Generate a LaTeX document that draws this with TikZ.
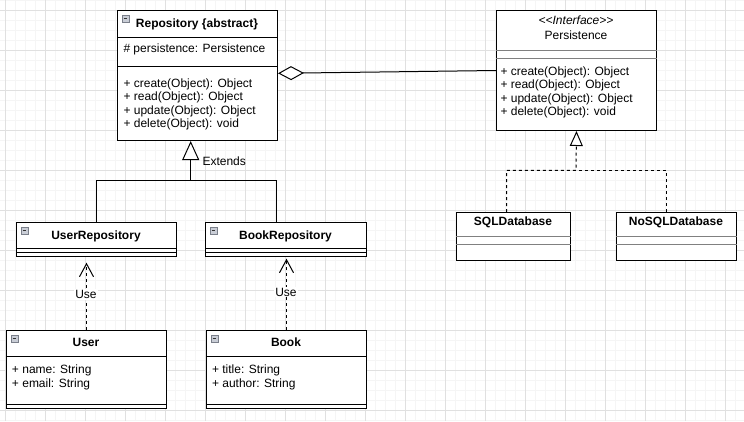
\documentclass[tikz,border=0pt]{standalone}
\usepackage{fontspec}
\setmainfont{Liberation Sans}
\usetikzlibrary{arrows.meta}
\definecolor{gridmajor}{HTML}{E0E0E0}
\definecolor{gridminor}{HTML}{F5F5F5}
\definecolor{sepgray}{HTML}{808080}
\definecolor{iconfill}{HTML}{C9CDD6}
\definecolor{icondraw}{HTML}{7A7F8A}
\begin{document}
\begin{tikzpicture}[x=1pt, y=-1pt, line width=1pt,
  every node/.style={inner sep=0pt, font=\fontsize{12}{14}\selectfont, text=black},
  umlbox/.style={draw=black, fill=white, anchor=north west, line width=1pt},
  titletext/.style={anchor=base, font=\fontsize{12}{14}\selectfont\bfseries},
  member/.style={anchor=base west},
  dashline/.style={dash pattern=on 3pt off 3pt},
  uselabel/.style={anchor=base, fill=white, inner sep=1pt},
  colicon/.pic={\draw[draw=icondraw, fill=iconfill, line width=0.8pt] (0,0) rectangle (7,7);
                \draw[draw=black!80, line width=1pt] (1.6,3.5) -- (5.4,3.5);}
]
\useasboundingbox (0,0) rectangle (744,421);
\fill[white] (0,0) rectangle (744,421);
% grid
\foreach \gx in {5,15,...,735} \draw[gridminor] (\gx,0) -- (\gx,421);
\foreach \gy in {0,10,...,420} \draw[gridminor] (0,\gy) -- (744,\gy);
\foreach \gx in {5,45,...,725} \draw[gridmajor] (\gx,0) -- (\gx,421);
\foreach \gy in {10,50,...,410} \draw[gridmajor] (0,\gy) -- (744,\gy);

% ---------- boxes ----------
\node[umlbox, minimum width=160, minimum height=130] (repo) at (117,10) {};
\draw ([yshift=-27pt]repo.north west) -- ([yshift=-27pt]repo.north east);
\draw ([yshift=-56pt]repo.north west) -- ([yshift=-56pt]repo.north east);
\pic at ([xshift=5pt,yshift=-5pt]repo.north west) {colicon};
\node[titletext] (repoT) at (197,27.5) {Repository \{abstract\}};
\node[member] (repoA) at (123,52.7) {\# persistence: Persistence};
\node[member] (repoM1) at (123,87.3) {+ create(Object): Object};
\node[member] (repoM2) at (123,100.7) {+ read(Object): Object};
\node[member] (repoM3) at (123,114.1) {+ update(Object): Object};
\node[member] (repoM4) at (123,127.5) {+ delete(Object): void};

\node[umlbox, minimum width=160, minimum height=120] (pers) at (496,10) {};
\draw[sepgray] ([yshift=-40pt]pers.north west) -- ([yshift=-40pt]pers.north east);
\draw[sepgray] ([yshift=-48pt]pers.north west) -- ([yshift=-48pt]pers.north east);
\node[anchor=base, font=\fontsize{12}{14}\selectfont\itshape] (persS) at (576,24.1) {<\kern0pt<Interface>\kern0pt>};
\node[anchor=base] (persT) at (576,39.1) {Persistence};
\node[member] (persM1) at (500,75.3) {+ create(Object): Object};
\node[member] (persM2) at (500,88.7) {+ read(Object): Object};
\node[member] (persM3) at (500,102.1) {+ update(Object): Object};
\node[member] (persM4) at (500,115.5) {+ delete(Object): void};

\node[umlbox, minimum width=160, minimum height=34] (urepo) at (16,222) {};
\draw ([yshift=-26pt]urepo.north west) -- ([yshift=-26pt]urepo.north east);
\draw ([yshift=-30pt]urepo.north west) -- ([yshift=-30pt]urepo.north east);
\pic at ([xshift=5pt,yshift=-5pt]urepo.north west) {colicon};
\node[titletext] (urepoT) at (96,239.5) {UserRepository};

\node[umlbox, minimum width=161, minimum height=34] (brepo) at (205,222) {};
\draw ([yshift=-26pt]brepo.north west) -- ([yshift=-26pt]brepo.north east);
\draw ([yshift=-30pt]brepo.north west) -- ([yshift=-30pt]brepo.north east);
\pic at ([xshift=5pt,yshift=-5pt]brepo.north west) {colicon};
\node[titletext] (brepoT) at (285.5,239.5) {BookRepository};

\node[umlbox, minimum width=114, minimum height=48] (sql) at (456,212) {};
\draw[sepgray] ([yshift=-24.5pt]sql.north west) -- ([yshift=-24.5pt]sql.north east);
\draw[sepgray] ([yshift=-32.3pt]sql.north west) -- ([yshift=-32.3pt]sql.north east);
\node[titletext] (sqlT) at (513,225) {SQLDatabase};

\node[umlbox, minimum width=120, minimum height=48] (nosql) at (616,212) {};
\draw[sepgray] ([yshift=-24.5pt]nosql.north west) -- ([yshift=-24.5pt]nosql.north east);
\draw[sepgray] ([yshift=-32.3pt]nosql.north west) -- ([yshift=-32.3pt]nosql.north east);
\node[titletext] (nosqlT) at (676,225) {NoSQLDatabase};

\node[umlbox, minimum width=160, minimum height=78] (user) at (6,330) {};
\draw ([yshift=-26pt]user.north west) -- ([yshift=-26pt]user.north east);
\draw ([yshift=-74pt]user.north west) -- ([yshift=-74pt]user.north east);
\pic at ([xshift=5pt,yshift=-5pt]user.north west) {colicon};
\node[titletext] (userT) at (86,346.7) {User};
\node[member] (userA1) at (11.5,373.4) {+ name: String};
\node[member] (userA2) at (11.5,387) {+ email: String};

\node[umlbox, minimum width=160, minimum height=78] (book) at (206,330) {};
\draw ([yshift=-26pt]book.north west) -- ([yshift=-26pt]book.north east);
\draw ([yshift=-74pt]book.north west) -- ([yshift=-74pt]book.north east);
\pic at ([xshift=5pt,yshift=-5pt]book.north west) {colicon};
\node[titletext] (bookT) at (286,346.7) {Book};
\node[member] (bookA1) at (211.5,373.4) {+ title: String};
\node[member] (bookA2) at (211.5,387) {+ author: String};

% ---------- connectors ----------
% aggregation
\draw[-{Diamond[open, length=26pt, width=14pt, fill=white]}]
  ([yshift=-60.5pt]pers.north west) -- ([yshift=-63.3pt]repo.north east);

% generalization
\coordinate (extJ) at (190.7,180.7);
\draw[-{Triangle[open, length=19pt, width=17pt, fill=white]}]
  (urepo.north) |- (extJ) -- (extJ |- repo.south);
\draw ([xshift=-9.8pt]brepo.north) |- (extJ);
\node[anchor=base west] (extL) at (202,165.4) {Extends};

% realization
\coordinate (realJ) at (576,170.3);
\draw[dashline, -{Triangle[open, length=15pt, width=13pt, fill=white]}]
  ([xshift=-7pt]sql.north) |- (realJ) -- (pers.south);
\draw[dashline] ([xshift=-10.3pt]nosql.north) |- (realJ);

% use dependencies
\path (user.north |- urepo.south) ++(0,5.7) coordinate (uTip);
\draw[dashline, -{Straight Barb[length=13pt, width=14pt]}] (user.north) -- (uTip);
\node[uselabel] (useU) at (86,298.4) {Use};
\path (book.north |- brepo.south) ++(0,1.7) coordinate (bTip);
\draw[dashline, -{Straight Barb[length=13pt, width=14pt]}] (book.north) -- (bTip);
\node[uselabel] (useB) at (286,296) {Use};
\end{tikzpicture}
\end{document}
